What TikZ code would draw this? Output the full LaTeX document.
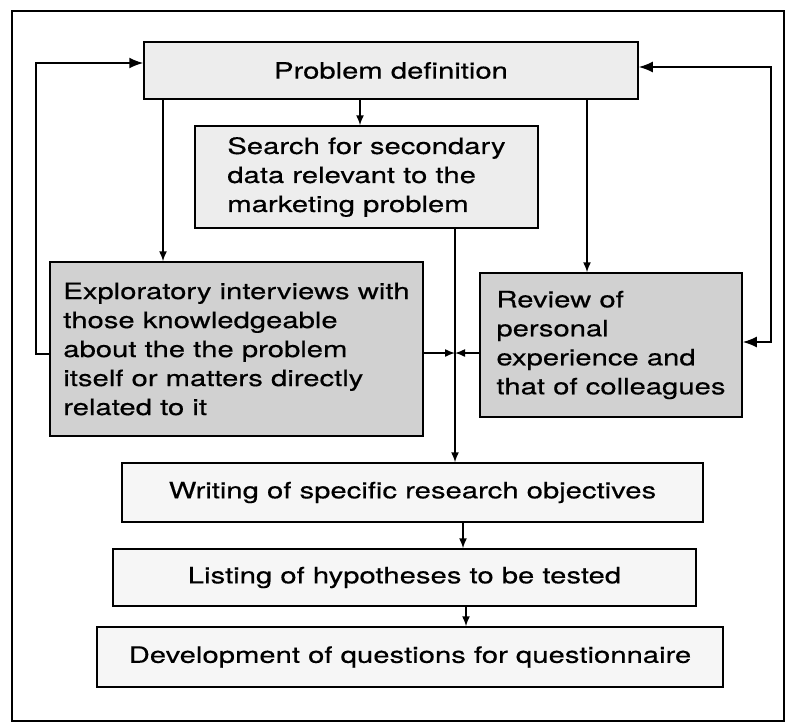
\documentclass[tikz,border=0pt]{standalone}
\usepackage{fontspec}
\setmainfont{TeX Gyre Heros}[FakeStretch=1.3, FakeBold=0.4]
\usetikzlibrary{arrows.meta}
\tikzset{
    stage/.style={draw, line width=1.5pt, inner sep=0pt, align=center, font=\fontsize{22.5}{29}\selectfont},% stage is the common look of every box, its size is given per node
}

\begin{document}
\begin{tikzpicture}
    [x=1pt, y=-1pt,
    pale/.style={stage, fill=gray!7},
    light/.style={stage, fill=gray!14},
    dark/.style={stage, fill=gray!36, align=left},
    linkarrow/.style={line width=1.5pt, -{Latex[length=10pt, width=8pt]}},
    backarrow/.style={line width=1.7pt, -{Latex[length=14pt, width=11pt]}}]
    \useasboundingbox (0,0) rectangle (786,724);
    \draw[line width=2pt] (12,11) rectangle (784,721);

    \node(problem) [light, minimum width=494pt, minimum height=57pt] at (391,70.5) {Problem definition};
    \node(search) [light, align=left, minimum width=343pt, minimum height=102pt] at (366.5,177)
        {Search for secondary\\data relevant to the\\marketing problem};
    \node(explor) [dark, minimum width=373pt, minimum height=174pt] at (236.5,349)
        {Exploratory interviews with\\those knowledgeable\\about the the problem\\itself or matters directly\\related to it};
    \node(review) [dark, minimum width=262pt, minimum height=144pt] at (611,345)
        {Review of\\personal\\experience and\\that of colleagues};
    \node(writing) [pale, minimum width=581pt, minimum height=59pt] at (412.5,492.5) {Writing of specific research objectives};
    \node(listing) [pale, minimum width=583pt, minimum height=57pt] at (404.5,577.5) {Listing of hypotheses to be tested};
    \node(develop) [pale, minimum width=626pt, minimum height=60pt] at (410,657) {Development of questions for questionnaire};

    \coordinate(join) at (455,353);
    \draw[linkarrow] (problem.south -| 163,0) -- (explor.north -| 163,0);
    \draw[linkarrow] (problem.south -| 360,0) -- (search.north -| 360,0);
    \draw[linkarrow] (problem.south -| 587,0) -- (review.north -| 587,0);
    \draw[linkarrow] (search.south -| join) -- (writing.north -| join);
    \draw[linkarrow] (explor.east |- join) -- (join);
    \draw[linkarrow] (review.west |- join) -- (join);
    \draw[linkarrow] (writing.south -| 463,0) -- (listing.north -| 463,0);
    \draw[linkarrow] (listing.south -| 466,0) -- (develop.north -| 466,0);
    \draw[backarrow] (explor.west |- 0,354) -- ++(-13,0) |- (problem.west |- 0,63);
    \draw[backarrow, {Latex[length=14pt, width=11pt]}-{Latex[length=14pt, width=11pt]}] (problem.east |- 0,67) -- ++(132,0) |- (review.east |- 0,342);
\end{tikzpicture}
\end{document}
